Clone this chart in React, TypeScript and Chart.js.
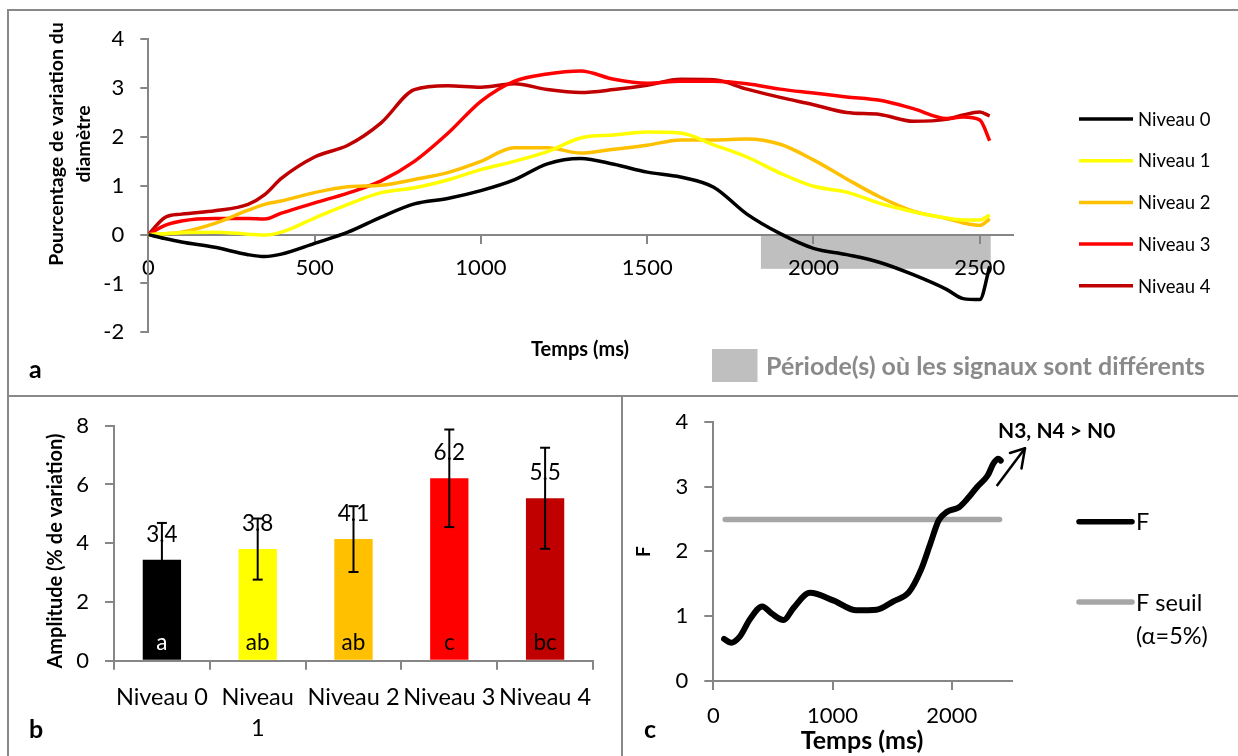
import React, { useEffect, useRef } from "react";
import { Chart, registerables } from "chart.js";

Chart.register(...registerables);

const FONT = "Lato, 'Open Sans', 'Noto Sans', sans-serif";
const AXIS_GRAY = "#868686";

// ---------- Panel a : time courses ----------
const timeMs = [0, 50, 100, 200, 300, 350, 400, 500, 600, 700, 800, 900, 1000, 1100, 1200, 1300, 1400, 1500, 1600, 1700, 1800, 1900, 2000, 2100, 2200, 2300, 2400, 2450, 2500, 2530];
const niveau0 = [0, -0.08, -0.15, -0.26, -0.41, -0.45, -0.4, -0.18, 0.05, 0.36, 0.63, 0.74, 0.9, 1.12, 1.45, 1.56, 1.44, 1.28, 1.18, 0.97, 0.42, 0.02, -0.28, -0.41, -0.57, -0.82, -1.12, -1.31, -1.33, -0.65];
const niveau1 = [0, 0.02, 0.04, 0.05, 0.01, -0.01, 0.05, 0.34, 0.62, 0.86, 0.96, 1.12, 1.33, 1.5, 1.7, 1.98, 2.04, 2.1, 2.08, 1.84, 1.59, 1.26, 0.99, 0.87, 0.64, 0.47, 0.34, 0.3, 0.3, 0.4];
const niveau2 = [0, 0.02, 0.05, 0.23, 0.5, 0.62, 0.69, 0.86, 0.98, 1.01, 1.13, 1.27, 1.5, 1.78, 1.78, 1.67, 1.75, 1.83, 1.94, 1.94, 1.96, 1.85, 1.53, 1.14, 0.77, 0.48, 0.33, 0.24, 0.19, 0.32];
const niveau3 = [0, 0.19, 0.28, 0.33, 0.33, 0.32, 0.44, 0.65, 0.85, 1.1, 1.5, 2.07, 2.73, 3.14, 3.29, 3.35, 3.18, 3.1, 3.14, 3.14, 3.09, 2.98, 2.9, 2.82, 2.75, 2.58, 2.38, 2.41, 2.35, 1.92];
const niveau4 = [0, 0.35, 0.42, 0.49, 0.62, 0.82, 1.15, 1.59, 1.83, 2.29, 2.97, 3.05, 3.02, 3.09, 2.97, 2.91, 2.97, 3.06, 3.18, 3.17, 2.98, 2.81, 2.66, 2.5, 2.46, 2.32, 2.36, 2.45, 2.51, 2.43];
const seriesLabels = ["Niveau 0", "Niveau 1", "Niveau 2", "Niveau 3", "Niveau 4"];
const seriesColors = ["#000000", "#FFFF00", "#FFC000", "#FF0000", "#C00000"];
const diffPeriodMs = [1842, 2533];
const diffPeriodDepth = -0.7;
const diffLegendText = "Période(s) où les signaux sont différents";
const xTicksA = [0, 500, 1000, 1500, 2000, 2500];
const yTicksA = [-2, -1, 0, 1, 2, 3, 4];

// ---------- Panel b : amplitudes ----------
const barCategories = ["Niveau 0", "Niveau 1", "Niveau 2", "Niveau 3", "Niveau 4"];
const amplitudeMeans = [3.44, 3.8, 4.14, 6.21, 5.53];
const amplitudeSd = [1.25, 1.04, 1.12, 1.66, 1.72];
const groupLetters = ["a", "ab", "ab", "c", "bc"];
const yTicksB = [0, 2, 4, 6, 8];

// ---------- Panel c : F statistic ----------
const fTimeMs = [90, 150, 220, 310, 410, 490, 590, 670, 810, 1010, 1200, 1370, 1510, 1640, 1740, 1820, 1890, 1960, 2060, 2130, 2210, 2300, 2350, 2390, 2410];
const fValues = [0.65, 0.59, 0.68, 0.96, 1.15, 1.04, 0.94, 1.12, 1.36, 1.24, 1.09, 1.1, 1.23, 1.37, 1.71, 2.12, 2.48, 2.61, 2.68, 2.81, 2.99, 3.17, 3.36, 3.43, 3.4];
const fThresholdTimeMs = [100, 2400];
const fThresholdValues = [2.49, 2.49];
const fLegendLabels = ["F", "F seuil (α=5%)"];
const fAnnotation = "N3, N4 > N0";
const xTicksC = [0, 1000, 2000];
const yTicksC = [0, 1, 2, 3, 4];

// ---------- helpers ----------
type TextOpts = { size: number; bold?: boolean; color?: string; align?: CanvasTextAlign; baseline?: CanvasTextBaseline; rotate?: number };
function drawText(ctx: CanvasRenderingContext2D, str: string, x: number, y: number, o: TextOpts) {
  ctx.save();
  ctx.font = `${o.bold ? "bold " : ""}${o.size}px ${FONT}`;
  ctx.fillStyle = o.color || "#000";
  ctx.textAlign = o.align || "left";
  ctx.textBaseline = o.baseline || "alphabetic";
  ctx.translate(x, y);
  if (o.rotate) ctx.rotate(o.rotate);
  ctx.fillText(str, 0, 0);
  ctx.restore();
}
function drawLine(ctx: CanvasRenderingContext2D, x1: number, y1: number, x2: number, y2: number, color: string, w: number, cap: CanvasLineCap = "butt") {
  ctx.save();
  ctx.strokeStyle = color;
  ctx.lineWidth = w;
  ctx.lineCap = cap;
  ctx.beginPath();
  ctx.moveTo(x1, y1);
  ctx.lineTo(x2, y2);
  ctx.stroke();
  ctx.restore();
}
const fixBox = (size: number) => (s: any) => {
  s.paddingLeft = 0;
  s.paddingRight = 0;
  s.paddingTop = 0;
  s.paddingBottom = 0;
  if (s.isHorizontal()) s.height = size;
  else s.width = size;
};
const setTicks = (values: number[]) => (s: any) => {
  s.ticks = values.map((v) => ({ value: v }));
};
const numLabel = (v: any) => String(v);
const axisBase = (tickLength: number, size: number, ticks: number[]) => ({
  afterFit: fixBox(size),
  afterBuildTicks: setTicks(ticks),
  border: { color: AXIS_GRAY, width: 2 },
  grid: { drawOnChartArea: false, drawTicks: true, tickLength, color: AXIS_GRAY, lineWidth: 2 },
});
const tickFont = { size: 22, family: FONT };
const commonOpts = {
  responsive: false,
  animation: false as const,
  devicePixelRatio: 1,
  events: [] as any[],
};
const noPlugins = { legend: { display: false }, tooltip: { enabled: false }, title: { display: false } };

// ---------- Panel a config ----------
const plugA = {
  id: "panelA",
  beforeDraw(chart: any) {
    const { ctx, scales } = chart;
    const xs = scales.x, ys = scales.y;
    const x1 = xs.getPixelForValue(diffPeriodMs[0]);
    const x2 = xs.getPixelForValue(diffPeriodMs[1]);
    const y1 = ys.getPixelForValue(0);
    const y2 = ys.getPixelForValue(diffPeriodDepth);
    ctx.save();
    ctx.fillStyle = "#BFBFBF";
    ctx.fillRect(x1, y1, x2 - x1, y2 - y1);
    ctx.restore();
  },
  afterDraw(chart: any) {
    const { ctx } = chart;
    drawText(ctx, "Pourcentage de variation du", 57, 144, { size: 19.5, bold: true, align: "center", baseline: "middle", rotate: -Math.PI / 2 });
    drawText(ctx, "diamètre", 84, 144, { size: 19.5, bold: true, align: "center", baseline: "middle", rotate: -Math.PI / 2 });
    drawText(ctx, "Temps (ms)", 580, 356, { size: 20, bold: true, align: "center" });
    drawText(ctx, "a", 29, 378, { size: 25, bold: true });
    chart.data.datasets.forEach((ds: any, i: number) => {
      const y = 119 + i * 41.7;
      drawLine(ctx, 1079, y, 1133, y, ds.borderColor, 3.5);
      drawText(ctx, ds.label, 1138, y + 6.7, { size: 18.5 });
    });
    ctx.save();
    ctx.fillStyle = "#BFBFBF";
    ctx.fillRect(712, 349, 45.5, 33);
    ctx.restore();
    drawText(ctx, diffLegendText, 766, 375, { size: 25, bold: true, color: "#8A8A8A" });
  },
};

const seriesA = [niveau0, niveau1, niveau2, niveau3, niveau4];
const cfgA: any = {
  type: "line",
  data: {
    datasets: seriesA.map((vals, k) => ({
      label: seriesLabels[k],
      data: timeMs.map((t, i) => ({ x: t, y: vals[i] })),
      borderColor: seriesColors[k],
      backgroundColor: seriesColors[k],
      borderWidth: 3.5,
      pointRadius: 0,
      cubicInterpolationMode: "monotone",
      fill: false,
    })),
  },
  options: {
    ...commonOpts,
    layout: { padding: { left: 0, right: 225, top: 39.3, bottom: 396 - 332.3 } },
    plugins: noPlugins,
    scales: {
      x: {
        type: "linear",
        position: { y: 0 },
        min: 0,
        max: 2600,
        ...axisBase(8, 0, xTicksA),
        ticks: { autoSkip: false, maxRotation: 0, font: tickFont, color: "#000", padding: 12, callback: numLabel },
      },
      y: {
        type: "linear",
        position: "left",
        min: -2,
        max: 4,
        ...axisBase(8, 148.3, yTicksA),
        ticks: { autoSkip: false, font: tickFont, color: "#000", padding: 16, callback: numLabel },
      },
    },
  },
  plugins: [plugA],
};

// ---------- Panel b config ----------
const plugB = {
  id: "panelB",
  afterDatasetsDraw(chart: any) {
    const { ctx, scales } = chart;
    const ys = scales.y;
    const meta = chart.getDatasetMeta(0);
    const base = ys.getPixelForValue(0);
    meta.data.forEach((bar: any, i: number) => {
      const x = bar.x;
      const top = bar.y;
      drawText(ctx, amplitudeMeans[i].toFixed(1), x, top - 18, { size: 22.5, align: "center" });
      const barColor = seriesColors[i];
      drawText(ctx, groupLetters[i], x, base - 10.5, { size: 22.5, align: "center", color: barColor === "#000000" ? "#FFFFFF" : "#000000" });
      const yHi = ys.getPixelForValue(amplitudeMeans[i] + amplitudeSd[i]);
      const yLo = ys.getPixelForValue(amplitudeMeans[i] - amplitudeSd[i]);
      drawLine(ctx, x, yHi, x, yLo, "#000", 2);
      drawLine(ctx, x - 5, yHi, x + 5, yHi, "#000", 2);
      drawLine(ctx, x - 5, yLo, x + 5, yLo, "#000", 2);
    });
  },
  afterDraw(chart: any) {
    const { ctx } = chart;
    drawText(ctx, "Amplitude (% de variation)", 56, 154, { size: 20, bold: true, align: "center", baseline: "middle", rotate: -Math.PI / 2 });
    drawText(ctx, "b", 29, 341, { size: 25, bold: true });
  },
};

const cfgB: any = {
  type: "bar",
  data: {
    labels: barCategories,
    datasets: [
      {
        label: "Amplitude",
        data: amplitudeMeans,
        backgroundColor: seriesColors,
        borderWidth: 0,
        barPercentage: 0.4,
        categoryPercentage: 1,
      },
    ],
  },
  options: {
    ...commonOpts,
    layout: { padding: { left: 0, right: 29, top: 28.7, bottom: 0 } },
    plugins: noPlugins,
    scales: {
      x: {
        type: "category",
        offset: true,
        afterFit: fixBox(359 - 263.7),
        border: { color: AXIS_GRAY, width: 2 },
        grid: { offset: true, drawOnChartArea: false, drawTicks: true, tickLength: 9, color: AXIS_GRAY, lineWidth: 2 },
        ticks: {
          autoSkip: false,
          maxRotation: 0,
          minRotation: 0,
          font: { size: 23.5, family: FONT, lineHeight: 1.32 },
          color: "#000",
          padding: 12,
          callback: (_v: any, i: number) => (i === 1 ? barCategories[i].split(" ") : barCategories[i]),
        },
      },
      y: {
        type: "linear",
        min: 0,
        max: 8,
        ...axisBase(9, 114, yTicksB),
        ticks: { autoSkip: false, font: tickFont, color: "#000", padding: 16, callback: numLabel },
      },
    },
  },
  plugins: [plugB],
};

// ---------- Panel c config ----------
const plugC = {
  id: "panelC",
  afterDraw(chart: any) {
    const { ctx } = chart;
    drawText(ctx, "F", 21.6, 154.7, { size: 19, bold: true, align: "center", baseline: "middle", rotate: -Math.PI / 2 });
    drawText(ctx, "Temps (ms)", 240, 352, { size: 25, bold: true, align: "center" });
    drawText(ctx, "c", 22, 341, { size: 25, bold: true });
    const ys = [124.7, 205];
    chart.data.datasets.forEach((ds: any, i: number) => {
      const y = ys[i];
      drawLine(ctx, 457, y, 510, y, ds.borderColor, 5.5, "round");
      const parts = fLegendLabels[i].split(" (");
      drawText(ctx, parts[0], 514, y + 8.5, { size: 23.5 });
      if (parts[1]) drawText(ctx, "(" + parts[1], 514, y + 41.5, { size: 23.5 });
    });
    drawText(ctx, fAnnotation, 376, 41, { size: 21, bold: true });
    const ax1 = 374.7, ay1 = 89, ax2 = 403, ay2 = 51.3;
    drawLine(ctx, ax1, ay1, ax2, ay2, "#000", 2.5);
    drawLine(ctx, ax2, ay2, 388, 56, "#000", 2.5, "round");
    drawLine(ctx, ax2, ay2, 399.5, 71.5, "#000", 2.5, "round");
  },
};

const cfgC: any = {
  type: "line",
  data: {
    datasets: [
      {
        label: fLegendLabels[0],
        data: fTimeMs.map((t, i) => ({ x: t, y: fValues[i] })),
        borderColor: "#000000",
        borderWidth: 6,
        borderCapStyle: "round",
        pointRadius: 0,
        cubicInterpolationMode: "monotone",
        fill: false,
      },
      {
        label: fLegendLabels[1],
        data: fThresholdTimeMs.map((t, i) => ({ x: t, y: fThresholdValues[i] })),
        borderColor: "#A6A6A6",
        borderWidth: 5.5,
        borderCapStyle: "round",
        pointRadius: 0,
        fill: false,
      },
    ],
  },
  options: {
    ...commonOpts,
    layout: { padding: { left: 0, right: 226.5, top: 24.7, bottom: 0 } },
    plugins: noPlugins,
    scales: {
      x: {
        type: "linear",
        position: "bottom",
        min: 0,
        max: 2500,
        ...axisBase(9, 75, xTicksC),
        ticks: { autoSkip: false, maxRotation: 0, font: tickFont, color: "#000", padding: 13, callback: numLabel },
      },
      y: {
        type: "linear",
        min: 0,
        max: 4,
        ...axisBase(9, 91.3, yTicksC),
        ticks: { autoSkip: false, font: tickFont, color: "#000", padding: 16, callback: numLabel },
      },
    },
  },
  plugins: [plugC],
};

export default function App() {
  const refA = useRef<HTMLCanvasElement>(null);
  const refB = useRef<HTMLCanvasElement>(null);
  const refC = useRef<HTMLCanvasElement>(null);

  useEffect(() => {
    Chart.defaults.font.family = FONT;
    const charts = [
      new Chart(refA.current as HTMLCanvasElement, cfgA),
      new Chart(refB.current as HTMLCanvasElement, cfgB),
      new Chart(refC.current as HTMLCanvasElement, cfgC),
    ];
    return () => charts.forEach((c) => c.destroy());
  }, []);

  const line = (left: number, top: number, width: number, height: number) => (
    <div style={{ position: "absolute", left, top, width, height, background: "#898989" }} />
  );

  return (
    <div style={{ position: "fixed", left: 0, top: 0, width: 1238, height: 756, background: "#fff", overflow: "hidden" }}>
      <canvas ref={refA} width={1238} height={396} style={{ position: "absolute", left: 0, top: 0 }} />
      <canvas ref={refB} width={622} height={359} style={{ position: "absolute", left: 0, top: 397 }} />
      <canvas ref={refC} width={616} height={359} style={{ position: "absolute", left: 622, top: 397 }} />
      {line(7, 9, 1231, 2)}
      {line(7, 9, 2, 747)}
      {line(7, 395, 1231, 2)}
      {line(621, 395, 2, 361)}
    </div>
  );
}
